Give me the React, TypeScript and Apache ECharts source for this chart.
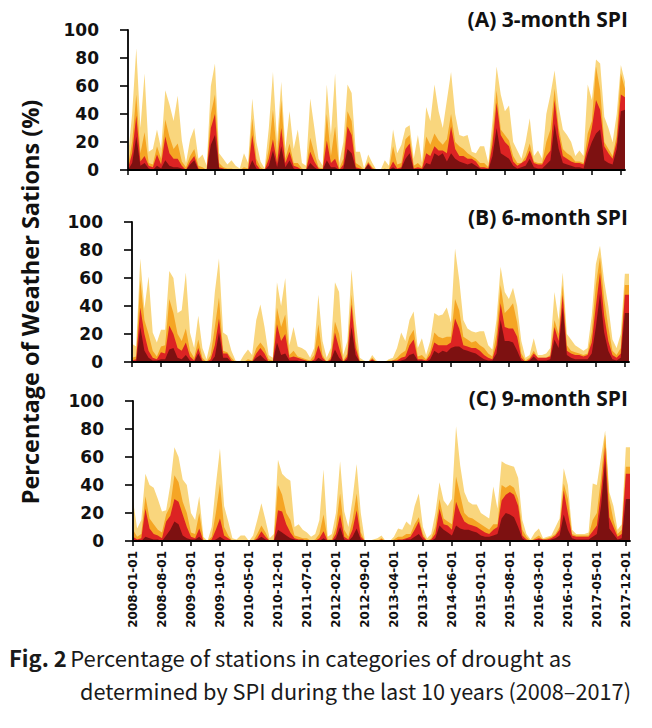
import React, { useEffect, useRef } from 'react';
import * as echarts from 'echarts';

// Monthly categories 2008-01-01 ... 2018-01-01
const categories: string[] = [];
for (let y = 2008; y <= 2018; y++) {
  for (let m = 1; m <= 12; m++) {
    if (y === 2018 && m > 1) break;
    categories.push(`${y}-${String(m).padStart(2, '0')}-01`);
  }
}

const panelTitles = ['(A) 3-month SPI', '(B) 6-month SPI', '(C) 9-month SPI'];
const yTicks = [0, 20, 40, 60, 80, 100];

// Cumulative percentage of stations (category or worse), panel A: 3-month SPI
const spi3Mild = [10,40,87,30,69,13,15,29,15,57, 47,35,53,21,5,22,30,8,11,3, 60,76,12,8,4,7,3,1,12,5, 51,20,6,1,30,70,20,63,15,42, 15,29,5,3,51,30,8,3,61,25, 69,5,20,61,55,13,13,1,11,5, 0,0,7,3,29,12,18,30,32,8, 25,5,45,35,61,42,30,50,70,40, 25,24,25,13,12,17,17,5,35,74, 54,42,46,20,14,8,20,37,10,14, 8,40,54,71,45,29,25,20,10,14, 10,61,50,79,76,38,30,20,40,75,63];
const spi3Moderate = [3,20,54,12,27,5,4,17,8,36, 24,15,19,6,2,10,15,3,2,0, 40,54,5,2,1,1,0,0,2,1, 37,8,2,0,15,43,10,50,8,19, 5,5,1,0,23,12,2,1,40,10, 31,1,8,42,35,5,3,0,6,2, 0,0,1,0,17,4,5,22,25,3, 5,2,24,18,26,21,18,22,40,20, 17,15,12,10,8,5,5,2,25,57, 29,25,21,10,5,5,10,19,6,5, 5,20,29,58,30,15,12,10,6,6, 5,26,35,74,57,20,15,10,25,69,58];
const spi3Severe = [1,12,39,6,10,3,2,11,4,24, 12,8,8,3,0,6,10,1,0,0, 30,40,2,1,0,0,0,0,0,0, 25,4,0,0,8,22,5,30,5,13, 3,2,0,0,13,6,1,0,21,5, 8,0,4,31,25,2,1,0,5,1, 0,0,0,0,6,1,2,15,19,1, 2,1,12,10,17,14,14,12,31,15, 10,10,8,8,6,2,2,1,18,48, 25,20,17,6,3,5,7,14,5,4, 4,10,14,50,25,10,8,6,5,5, 4,17,30,50,43,17,12,8,20,54,52];
const spi3Extreme = [0,5,24,3,5,1,0,3,1,7, 3,2,2,1,0,4,7,0,0,0, 18,25,1,0,0,0,0,0,0,0, 7,1,0,0,3,14,2,17,2,7, 1,0,0,0,5,2,0,0,7,2, 2,0,1,15,12,1,0,0,4,0, 0,0,0,0,2,0,1,8,12,0, 0,0,5,4,12,10,12,6,12,8, 6,5,4,5,3,1,0,0,10,30, 12,10,8,3,1,2,3,8,2,1, 1,4,7,33,15,5,4,3,2,2, 1,12,20,26,29,7,5,4,15,42,43];

// Panel B: 6-month SPI
const spi6Mild = [13,11,74,38,61,21,14,23,23,65, 60,35,37,64,21,10,33,10,2,15, 50,74,21,19,8,1,0,5,9,5, 30,41,25,5,3,57,40,60,12,25, 11,10,8,3,10,48,15,3,10,57, 50,5,15,66,30,3,1,0,5,1, 0,0,2,3,10,21,15,30,36,10, 17,5,15,35,33,34,39,28,81,59, 30,24,22,21,22,22,12,9,30,68, 50,45,53,40,15,3,5,17,5,5, 6,10,50,30,64,20,16,12,10,8, 10,33,70,83,58,40,16,10,20,63,63];
const spi6Moderate = [3,4,59,30,20,8,4,11,12,45, 35,20,15,24,8,3,16,3,0,5, 25,46,8,7,3,0,0,0,2,1, 10,14,10,2,1,39,25,34,5,8, 4,3,2,1,5,27,5,0,4,29, 20,1,6,48,15,1,0,0,3,0, 0,0,1,1,3,6,8,18,23,4, 5,2,8,21,18,17,18,18,45,37, 18,16,14,15,12,10,6,4,20,55, 35,38,42,28,6,1,3,8,3,3, 3,5,30,20,55,12,8,7,6,5, 6,21,55,75,45,25,8,5,10,55,55];
const spi6Severe = [1,2,39,20,8,3,2,7,6,26, 20,10,8,14,4,1,10,1,0,2, 12,31,6,6,1,0,0,0,0,0, 6,10,6,0,0,27,15,20,3,4, 3,2,1,0,2,12,3,0,2,21, 10,0,4,41,10,0,0,0,2,0, 0,0,0,1,1,3,4,12,16,2, 2,1,5,14,12,12,12,14,31,24, 12,11,10,10,8,5,3,2,12,42, 25,24,24,18,3,0,2,6,3,3, 3,4,25,15,48,8,6,5,5,4, 5,14,40,64,33,15,5,3,6,48,48];
const spi6Extreme = [0,0,25,8,3,1,1,2,2,9, 10,3,2,5,1,0,6,0,0,0, 4,21,3,3,0,0,0,0,0,0, 3,5,2,0,0,14,5,6,1,1, 1,0,0,0,0,3,1,0,1,9, 3,0,2,25,5,0,0,0,1,0, 0,0,0,0,0,1,2,5,6,1, 1,0,2,8,6,8,7,10,11,11, 9,8,7,6,4,2,1,1,6,30, 15,15,14,8,1,0,1,4,1,1, 1,2,16,10,39,5,3,2,2,2, 2,6,25,49,21,8,2,1,3,35,35];

// Panel C: 9-month SPI
const spi9Mild = [29,9,15,48,40,38,30,21,22,40, 67,60,44,40,20,15,32,3,0,10, 40,66,25,14,2,1,4,4,0,4, 15,27,15,2,5,58,48,45,43,10, 12,8,6,3,5,15,51,3,5,20, 57,21,10,30,55,20,0,0,1,2, 4,0,0,3,9,8,14,11,25,34, 10,2,5,20,42,29,25,30,82,54, 35,28,26,26,20,18,16,39,23,57, 55,54,53,45,15,5,1,6,9,2, 3,4,10,16,52,40,8,5,5,5, 6,41,40,60,79,35,25,8,12,67,67];
const spi9Moderate = [8,3,5,32,16,12,8,6,19,25, 47,42,28,20,6,5,20,1,0,3, 20,41,10,4,0,0,0,0,0,0, 5,11,6,0,1,40,33,20,15,4, 3,2,2,0,1,5,19,1,1,10, 34,8,3,15,34,6,0,0,0,0, 2,0,0,1,3,3,5,5,12,17, 5,0,2,10,30,16,14,12,46,33, 20,17,16,14,12,10,8,12,12,40, 38,40,38,30,8,3,0,2,4,1, 2,3,5,10,41,30,5,4,4,4, 4,15,20,45,76,30,15,5,8,53,53];
const spi9Severe = [3,1,2,23,9,5,4,2,14,18, 30,28,19,10,3,2,9,0,0,1, 8,16,4,2,0,0,0,0,0,0, 2,7,3,0,0,22,21,12,6,2, 1,1,0,0,0,2,7,0,0,5, 19,3,1,8,22,3,0,0,0,0, 1,0,0,0,1,1,2,3,8,14, 3,0,1,5,23,12,11,8,28,20, 14,12,11,10,8,6,5,8,10,29, 33,35,33,25,4,1,0,1,2,1, 1,2,4,8,36,20,4,3,3,3, 3,7,11,35,67,17,10,3,5,48,48];
const spi9Extreme = [0,0,0,3,2,1,1,0,4,8, 14,12,4,2,1,1,3,0,0,0, 1,3,1,0,0,0,0,0,0,0, 1,3,1,0,0,8,6,4,2,1, 0,0,0,0,0,0,2,0,0,2, 10,1,0,3,9,1,0,0,0,0, 0,0,0,0,0,0,1,1,3,5, 1,0,0,2,11,8,6,4,11,9, 8,8,7,6,4,3,3,4,5,16, 20,19,17,10,2,0,0,0,1,0, 0,1,2,4,19,8,2,1,1,1, 1,3,5,25,57,9,5,1,2,30,30];

const layerNames = ['Mild', 'Moderate', 'Severe', 'Extreme'];
const layerColors = ['#f9d67d', '#f5a524', '#dc2323', '#7d1111'];

const panels = [
  [spi3Mild, spi3Moderate, spi3Severe, spi3Extreme],
  [spi6Mild, spi6Moderate, spi6Severe, spi6Extreme],
  [spi9Mild, spi9Moderate, spi9Severe, spi9Extreme],
];

const gridLayout = [
  { left: 128, top: 30, width: 497, height: 140 },
  { left: 132, top: 222, width: 497, height: 140 },
  { left: 133, top: 401, width: 497, height: 140 },
];
const titleY = [22, 220, 401];

export default function App() {
  const ref = useRef<HTMLDivElement>(null);
  useEffect(() => {
    document.body.style.margin = '0';
    if (!ref.current) return;
    const chart = echarts.init(ref.current, undefined, { renderer: 'svg' });

    const grids = gridLayout.map((g) => ({ ...g }));
    const xAxes = gridLayout.map((_, i) => ({
      type: 'category',
      gridIndex: i,
      data: categories,
      boundaryGap: false,
      axisLine: { show: true, lineStyle: { color: '#000', width: 1.8 } },
      axisTick: { show: true, interval: 6, length: 5, lineStyle: { color: '#000', width: 1.5 } },
      axisLabel: {
        show: i === 2,
        interval: 6,
        rotate: 90,
        margin: 10,
        color: '#111',
        fontFamily: 'DejaVu Sans',
        fontWeight: 'bold',
        fontSize: 12,
      },
      splitLine: { show: false },
      z: 10,
    }));
    const yAxes = gridLayout.map((_, i) => ({
      type: 'value',
      gridIndex: i,
      min: yTicks[0],
      max: yTicks[yTicks.length - 1],
      interval: 20,
      axisLine: { show: true, lineStyle: { color: '#000', width: 1.8 } },
      axisTick: { show: true, length: 8, lineStyle: { color: '#000', width: 1.6 } },
      splitLine: { show: false },
      axisLabel: {
        margin: 29,
        color: '#111',
        fontFamily: 'DejaVu Sans',
        fontWeight: 'bold',
        fontSize: 17,
      },
      z: 10,
    }));

    const series: any[] = [];
    panels.forEach((layers, pi) => {
      layers.forEach((vals, li) => {
        series.push({
          name: `${panelTitles[pi]} ${layerNames[li]}`,
          type: 'line',
          xAxisIndex: pi,
          yAxisIndex: pi,
          data: vals,
          symbol: 'none',
          lineStyle: { width: 0 },
          areaStyle: { color: layerColors[li], opacity: 1 },
          z: 2 + li,
        });
      });
    });

    const graphic: any[] = panelTitles.map((t, i) => ({
      type: 'text',
      right: 24,
      top: titleY[i] - 14,
      style: {
        text: t,
        fill: '#111',
        font: 'bold 21px "Open Sans"',
      },
      z: 10,
    }));
    graphic.push({
      type: 'text',
      x: 30,
      y: 302,
      rotation: Math.PI / 2,
      style: {
        text: 'Percentage of Weather Sations (%)',
        fill: '#111',
        font: 'bold 23.5px "Open Sans"',
        textAlign: 'center',
        textVerticalAlign: 'middle',
      },
    });
    graphic.push({
      type: 'text',
      x: 9,
      y: 657,
      style: {
        rich: {
          b: { fontFamily: 'Noto Sans CJK KR', fontWeight: 'bold', fontSize: 22, fill: '#1a1a1a' },
          n: { fontFamily: 'Noto Sans CJK KR', fontSize: 22, fill: '#1a1a1a' },
        },
        text: '{b|Fig. 2} {n|Percentage of stations in categories of drought as}',
        textVerticalAlign: 'middle',
      },
    });
    graphic.push({
      type: 'text',
      x: 80,
      y: 690,
      style: {
        text: 'determined by SPI during the last 10 years (2008\u20132017)',
        fontFamily: 'Noto Sans CJK KR',
        fontSize: 21.7,
        fill: '#1a1a1a',
        textVerticalAlign: 'middle',
      },
    });

    chart.setOption({
      animation: false,
      backgroundColor: '#fff',
      grid: grids,
      xAxis: xAxes,
      yAxis: yAxes,
      series,
      graphic,
    });
    return () => chart.dispose();
  }, []);
  return <div ref={ref} style={{ width: 652, height: 728 }} />;
}
